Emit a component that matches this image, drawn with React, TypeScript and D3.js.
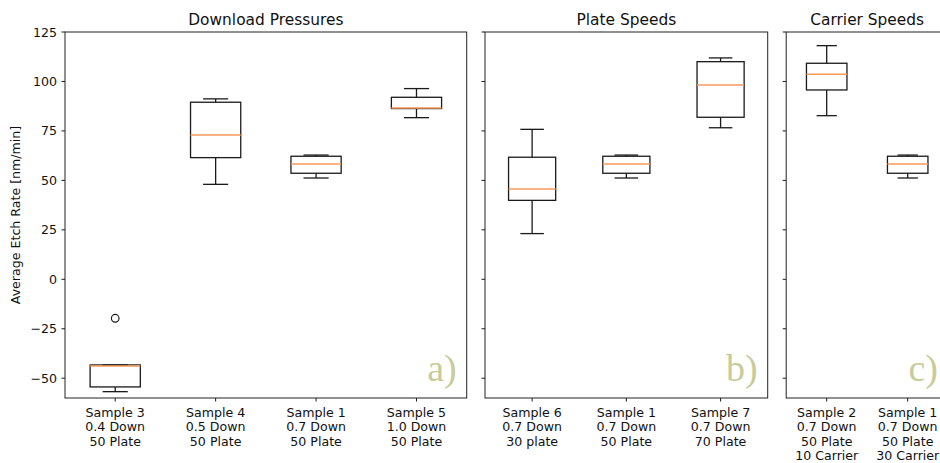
import React, { useEffect, useRef } from 'react';
import * as d3 from 'd3';

// panel titles and corner labels
const titles = ['Download Pressures', 'Plate Speeds', 'Carrier Speeds'];
const cornerLabels = ['a)', 'b)', 'c)'];
const yTicks = [-50, -25, 0, 25, 50, 75, 100, 125];

// a) download pressures
const categoriesA = ['Sample 3\n0.4 Down\n50 Plate', 'Sample 4\n0.5 Down\n50 Plate', 'Sample 1\n0.7 Down\n50 Plate', 'Sample 5\n1.0 Down\n50 Plate'];
const lowA = [-56.8, 48, 51.2, 81.7];
const q1A = [-54.4, 61.5, 53.6, 86.3];
const medA = [-43.8, 73, 58.3, 86.6];
const q3A = [-43.3, 89.5, 62.2, 92];
const highA = [-43.3, 91.2, 62.8, 96.4];
const fliersA = [[-19.7], [], [], []];

// b) plate speeds
const categoriesB = ['Sample 6\n0.7 Down\n30 plate', 'Sample 1\n0.7 Down\n50 Plate', 'Sample 7\n0.7 Down\n70 Plate'];
const lowB = [23.1, 51.2, 76.6];
const q1B = [39.9, 53.6, 81.9];
const medB = [45.7, 58.3, 98.2];
const q3B = [61.7, 62.2, 110];
const highB = [75.8, 62.8, 111.9];
const fliersB = [[], [], []];

// c) carrier speeds
const categoriesC = ['Sample 2\n0.7 Down\n50 Plate\n10 Carrier', 'Sample 1\n0.7 Down\n50 Plate\n30 Carrier'];
const lowC = [82.7, 51.2];
const q1C = [95.7, 53.6];
const medC = [103.6, 58.3];
const q3C = [109.2, 62.2];
const highC = [118.1, 62.8];
const fliersC = [[], []];

const W = 940;
const H = 463;
const top = 32;
const bottom = 398;

const panels = [
  { left: 65, right: 466.7, cats: categoriesA, low: lowA, q1: q1A, med: medA, q3: q3A, high: highA, fliers: fliersA, labels: true },
  { left: 485, right: 767.7, cats: categoriesB, low: lowB, q1: q1B, med: medB, q3: q3B, high: highB, fliers: fliersB, labels: false },
  { left: 786.2, right: 948.2, cats: categoriesC, low: lowC, q1: q1C, med: medC, q3: q3C, high: highC, fliers: fliersC, labels: false },
];

const font = 'DejaVu Sans, sans-serif';

export default function App() {
  const ref = useRef<SVGSVGElement>(null);

  useEffect(() => {
    const svg = d3.select(ref.current);
    svg.selectAll('*').remove();

    const y = d3.scaleLinear().domain([-60, 125]).range([bottom, top]);

    panels.forEach((p, pi) => {
      const n = p.cats.length;
      const x = d3.scaleLinear().domain([0.5, n + 0.5]).range([p.left, p.right]);
      const unit = x(1) - x(0);
      const g = svg.append('g');

      // y ticks
      yTicks.forEach(t => {
        g.append('line')
          .attr('x1', p.left - 3.5).attr('x2', p.left)
          .attr('y1', y(t)).attr('y2', y(t))
          .attr('stroke', '#000').attr('stroke-width', 0.9);
        if (p.labels) {
          g.append('text')
            .attr('x', p.left - 8).attr('y', y(t) + 4.5)
            .attr('text-anchor', 'end')
            .attr('font-family', font).attr('font-size', 12.6)
            .attr('fill', '#111')
            .text(t.toString().replace('-', '\u2212'));
        }
      });

      // boxes
      p.cats.forEach((c, i) => {
        const cx = x(i + 1);
        const bw = unit * 0.5;
        const cw = unit * 0.25;
        const stroke = '#1a1a1a';
        // whiskers
        g.append('line').attr('x1', cx).attr('x2', cx).attr('y1', y(p.q1[i])).attr('y2', y(p.low[i]))
          .attr('stroke', stroke).attr('stroke-width', 1.3);
        g.append('line').attr('x1', cx).attr('x2', cx).attr('y1', y(p.q3[i])).attr('y2', y(p.high[i]))
          .attr('stroke', stroke).attr('stroke-width', 1.3);
        // caps
        [p.low[i], p.high[i]].forEach(v => {
          g.append('line').attr('x1', cx - cw / 2).attr('x2', cx + cw / 2).attr('y1', y(v)).attr('y2', y(v))
            .attr('stroke', stroke).attr('stroke-width', 1.3);
        });
        // box
        g.append('rect')
          .attr('x', cx - bw / 2).attr('width', bw)
          .attr('y', y(p.q3[i])).attr('height', y(p.q1[i]) - y(p.q3[i]))
          .attr('fill', 'none').attr('stroke', stroke).attr('stroke-width', 1.3);
        // median
        g.append('line').attr('x1', cx - bw / 2).attr('x2', cx + bw / 2)
          .attr('y1', y(p.med[i])).attr('y2', y(p.med[i]))
          .attr('stroke', '#f79a5c').attr('stroke-width', 1.5);
        // fliers
        p.fliers[i].forEach(v => {
          g.append('circle').attr('cx', cx).attr('cy', y(v)).attr('r', 3.8)
            .attr('fill', 'none').attr('stroke', stroke).attr('stroke-width', 1.2);
        });
        // x tick and label
        g.append('line').attr('x1', cx).attr('x2', cx).attr('y1', bottom).attr('y2', bottom + 3.5)
          .attr('stroke', '#000').attr('stroke-width', 0.9);
        const txt = g.append('text')
          .attr('text-anchor', 'middle')
          .attr('font-family', font).attr('font-size', 12.6)
          .attr('fill', '#111');
        c.split('\n').forEach((line, li) => {
          txt.append('tspan').attr('x', cx).attr('y', 416.5 + li * 14.6).text(line);
        });
      });

      // frame
      g.append('rect')
        .attr('x', p.left).attr('y', top)
        .attr('width', p.right - p.left).attr('height', bottom - top)
        .attr('fill', 'none').attr('stroke', '#222').attr('stroke-width', 1);

      // title
      g.append('text')
        .attr('x', (p.left + p.right) / 2).attr('y', 25)
        .attr('text-anchor', 'middle')
        .attr('font-family', font).attr('font-size', 15.4)
        .attr('fill', '#111')
        .text(titles[pi]);

      // corner label
      g.append('text')
        .attr('x', pi === 2 ? 940 - 2 : p.right - 10).attr('y', 381)
        .attr('text-anchor', 'end')
        .attr('font-family', 'Liberation Serif, serif').attr('font-size', 38)
        .attr('fill', '#c8cc9a')
        .text(cornerLabels[pi]);
    });

    // y axis label
    svg.append('text')
      .attr('transform', `translate(19.5,${(top + bottom) / 2}) rotate(-90)`)
      .attr('text-anchor', 'middle')
      .attr('font-family', font).attr('font-size', 12.6)
      .attr('fill', '#111')
      .text('Average Etch Rate [nm/min]');
  }, []);

  return (
    <svg ref={ref} width={W} height={H}
      style={{ position: 'absolute', left: 0, top: 0, background: '#fff', display: 'block' }} />
  );
}
